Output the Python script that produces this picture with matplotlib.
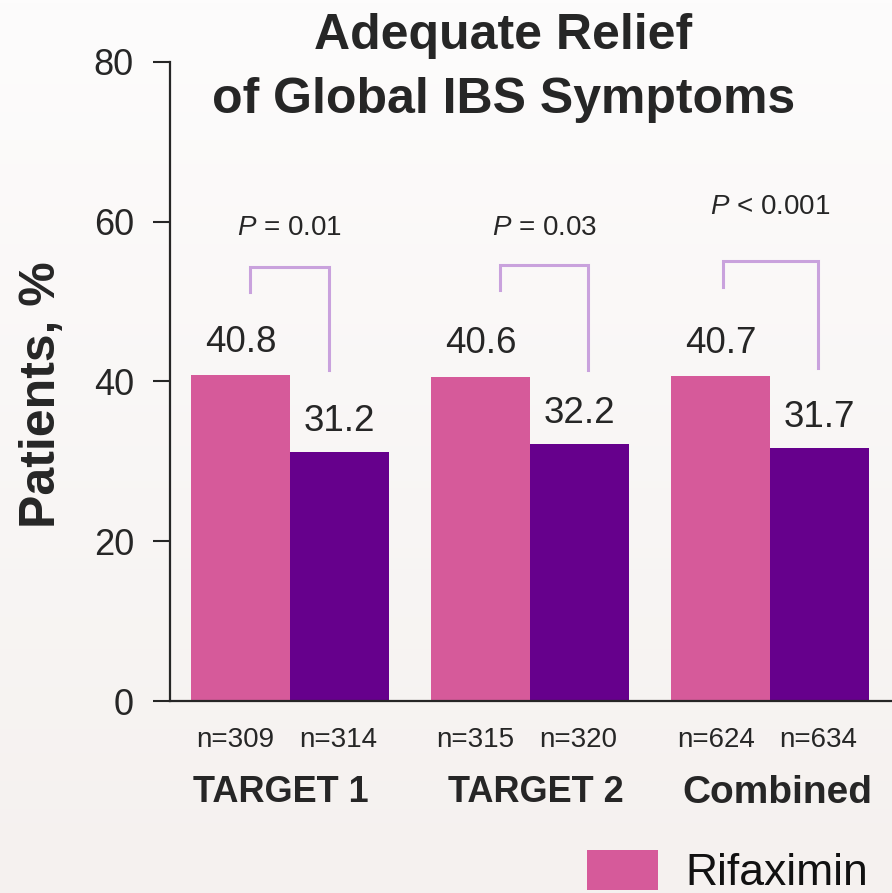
import matplotlib.pyplot as plt
import numpy as np

# study groups and adequate relief rates (%)
studies = ["TARGET 1", "TARGET 2", "Combined"]
rifaximin = [40.8, 40.6, 40.7]
placebo = [31.2, 32.2, 31.7]
n_rifaximin = [309, 315, 624]
n_placebo = [314, 320, 634]
p_values = ["$P$ = 0.01", "$P$ = 0.03", "$P$ < 0.001"]
y_ticks = [0, 20, 40, 60, 80]

PINK = "#d65a9a"
PURPLE = "#66008c"
BRACKET = "#c9a2dd"
TEXT = "#262626"

plt.rcParams["font.family"] = ["Liberation Sans", "DejaVu Sans"]
plt.rcParams["mathtext.fontset"] = "custom"
plt.rcParams["mathtext.rm"] = "Liberation Sans"
plt.rcParams["mathtext.it"] = "Liberation Sans:italic"

fig = plt.figure(figsize=(8.92, 8.93), dpi=100)

# soft vertical background wash
bg = fig.add_axes([0, 0, 1, 1], zorder=-10)
grad = np.linspace(0, 1, 256).reshape(-1, 1)
bg.imshow(grad, aspect="auto", cmap=plt.matplotlib.colors.LinearSegmentedColormap.from_list(
    "bg", ["#fdfcfc", "#f5f1ef"]), extent=[0, 1, 0, 1])
bg.axis("off")

ax = fig.add_axes([0.1906, 0.215, 0.8094, 0.7156])
ax.patch.set_alpha(0)

x = np.arange(len(studies))
w = 0.4125
b1 = ax.bar(x - w / 2, rifaximin, w, color=PINK, label="Rifaximin")
b2 = ax.bar(x + w / 2, placebo, w, color=PURPLE, label="Placebo")

ax.set_xlim(-0.5, 2.508)
ax.set_ylim(0, 80)
ax.set_yticks(y_ticks)
ax.set_xticks([])
ax.tick_params(axis="y", labelsize=26, length=12, width=1.5, colors=TEXT, pad=14)
for s in ["top", "right"]:
    ax.spines[s].set_visible(False)
for s in ["left", "bottom"]:
    ax.spines[s].set_linewidth(1.6)
    ax.spines[s].set_color(TEXT)

ax.set_ylabel("Patients, %", fontsize=36, fontweight="bold", color=TEXT)
ax.yaxis.set_label_coords(-0.145, 0.479)

# value labels above bars
for xi, v in zip(x - w / 2, rifaximin):
    ax.text(xi, v + 4.1, f"{v:.1f}", ha="center", va="center", fontsize=26.5, color=TEXT)
for xi, v in zip(x + w / 2, placebo):
    ax.text(xi, v + 3.8, f"{v:.1f}", ha="center", va="center", fontsize=26.5, color=TEXT)

# significance brackets
bracket_left = [-0.167, -0.125, -0.196]
bracket_right = [0.1625, 0.242, 0.2]
bracket_top = [54.3, 54.6, 55.1]
bracket_left_end = [51.2, 51.4, 51.8]
bracket_right_end = [41.4, 41.4, 41.7]
p_y = [59.2, 59.2, 61.8]
for i in range(len(studies)):
    xl, xr = x[i] + bracket_left[i], x[i] + bracket_right[i]
    ax.plot([xl, xl, xr, xr],
            [bracket_left_end[i], bracket_top[i], bracket_top[i], bracket_right_end[i]],
            color=BRACKET, lw=2.2, solid_joinstyle="miter")
    ax.text((xl + xr) / 2, p_y[i], p_values[i], ha="center", va="center",
            fontsize=20, color=TEXT)

# sample sizes and study names under the axis
name_shift = [-0.0375, 0.025, 0.03]
name_size = [26, 26, 28]
for i in range(len(studies)):
    ax.text(x[i] - w / 2 - 0.02, -4.9, f"n={n_rifaximin[i]}", ha="center", va="center",
            fontsize=20, color=TEXT, clip_on=False)
    ax.text(x[i] + w / 2 - 0.005, -4.9, f"n={n_placebo[i]}", ha="center", va="center",
            fontsize=20, color=TEXT, clip_on=False)
    ax.text(x[i] + name_shift[i], -11.5, studies[i], ha="center", va="center",
            fontsize=name_size[i], fontweight="bold", color=TEXT, clip_on=False)

fig.text(0.564, 0.924, "Adequate Relief\nof Global IBS Symptoms", ha="center", va="center",
         fontsize=36, fontweight="bold", color=TEXT, linespacing=1.5)

fig.legend(handles=[b1], loc="upper left", bbox_to_anchor=(0.658, 0.048),
           frameon=False, fontsize=32, handlelength=1.6, handleheight=1.0,
           handletextpad=0.62, borderpad=0, borderaxespad=0, labelcolor="#111111")

fig.savefig("out.png", dpi=100)
